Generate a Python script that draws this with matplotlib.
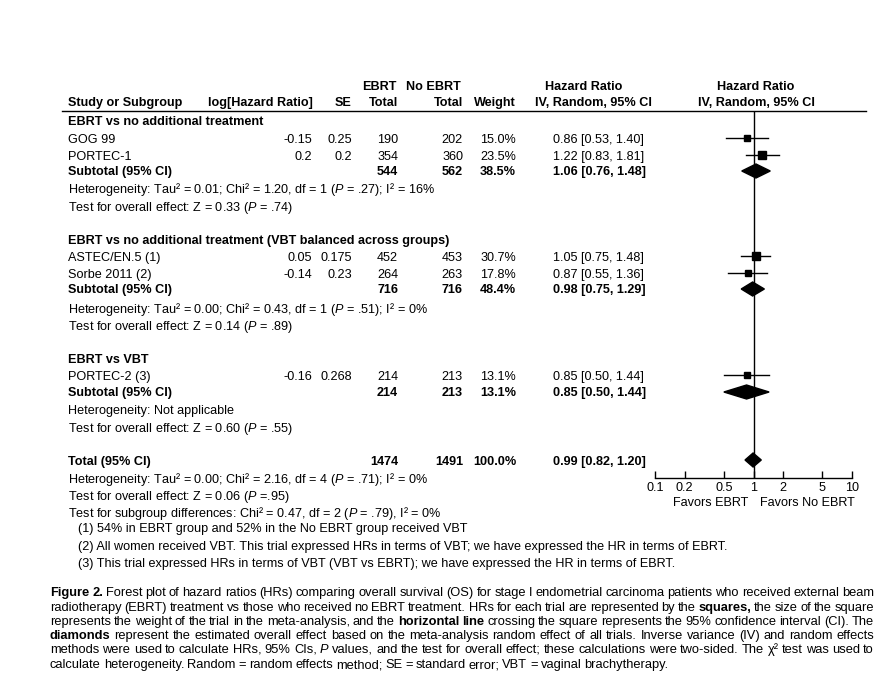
import numpy as np
import matplotlib
matplotlib.use("Agg")
import matplotlib.pyplot as plt

# ---- data ----
study_names = ["GOG 99", "PORTEC-1", "ASTEC/EN.5 (1)", "Sorbe 2011 (2)", "PORTEC-2 (3)"]
study_group = [0, 0, 1, 1, 2]
log_hr = [-0.15, 0.2, 0.05, -0.14, -0.16]
se = [0.25, 0.2, 0.175, 0.23, 0.268]
n_ebrt = [190, 354, 452, 264, 214]
n_no_ebrt = [202, 360, 453, 263, 213]
weight = [15.0, 23.5, 30.7, 17.8, 13.1]
hr = [0.86, 1.22, 1.05, 0.87, 0.85]
hr_lo = [0.53, 0.83, 0.75, 0.55, 0.50]
hr_hi = [1.40, 1.81, 1.48, 1.36, 1.44]

group_names = ["EBRT vs no additional treatment",
               "EBRT vs no additional treatment (VBT balanced across groups)",
               "EBRT vs VBT"]
sub_ebrt = [544, 716, 214]
sub_no_ebrt = [562, 716, 213]
sub_weight = [38.5, 48.4, 13.1]
sub_hr = [1.06, 0.98, 0.85]
sub_lo = [0.76, 0.75, 0.50]
sub_hi = [1.48, 1.29, 1.44]
sub_het = ["Heterogeneity: Tau² = 0.01; Chi² = 1.20, df = 1 ($P$ = .27); I² = 16%",
           "Heterogeneity: Tau² = 0.00; Chi² = 0.43, df = 1 ($P$ = .51); I² = 0%",
           "Heterogeneity: Not applicable"]
sub_test = ["Test for overall effect: Z = 0.33 ($P$ = .74)",
            "Test for overall effect: Z = 0.14 ($P$ = .89)",
            "Test for overall effect: Z = 0.60 ($P$ = .55)"]

tot_ebrt, tot_no_ebrt, tot_weight = 1474, 1491, 100.0
tot_hr, tot_lo, tot_hi = 0.99, 0.82, 1.20
tot_lines = ["Heterogeneity: Tau² = 0.00; Chi² = 2.16, df = 4 ($P$ = .71); I² = 0%",
             "Test for overall effect: Z = 0.06 ($P$ =.95)",
             "Test for subgroup differences: Chi² = 0.47, df = 2 ($P$ = .79), I² = 0%"]
footnotes = ["(1) 54% in EBRT group and 52% in the No EBRT group received VBT",
             "(2) All women received VBT. This trial expressed HRs in terms of VBT; we have expressed the HR in terms of EBRT.",
             "(3) This trial expressed HRs in terms of VBT (VBT vs EBRT); we have expressed the HR in terms of EBRT."]

xticks = [0.1, 0.2, 0.5, 1, 2, 5, 10]
xtick_labels = ["0.1", "0.2", "0.5", "1", "2", "5", "10"]

caption = [
    "**Figure** **2.** Forest plot of hazard ratios (HRs) comparing overall survival (OS) for stage I endometrial carcinoma patients who received external beam",
    "radiotherapy (EBRT) treatment vs those who received no EBRT treatment. HRs for each trial are represented by the **squares,** the size of the square",
    "represents the weight of the trial in the meta-analysis, and the **horizontal** **line** crossing the square represents the 95% confidence interval (CI). The",
    "**diamonds** represent the estimated overall effect based on the meta-analysis random effect of all trials. Inverse variance (IV) and random effects",
    "methods were used to calculate HRs, 95% CIs, _P_ values, and the test for overall effect; these calculations were two-sided. The χ² test was used to",
    "calculate heterogeneity. Random = random effects method; SE = standard error; VBT = vaginal brachytherapy.",
]

# ---- layout (pixel rows) ----
W, H = 892, 688
plt.rcParams['font.family'] = ['Liberation Sans', 'DejaVu Sans']
plt.rcParams['mathtext.fontset'] = 'custom'
plt.rcParams['mathtext.rm'] = 'Liberation Sans'
plt.rcParams['mathtext.it'] = 'Liberation Sans:italic'
plt.rcParams['mathtext.bf'] = 'Liberation Sans:bold'
FS = 9.1

fig = plt.figure(figsize=(W / 100, H / 100), dpi=100)
ax = fig.add_axes([0, 0, 1, 1])
ax.set_xlim(0, W)
ax.set_ylim(H, 0)
ax.axis('off')

line_top, axis_y = 111, 478
X_NAME, X_LOG, X_SE, X_N1, X_N2, X_W, X_CI = 68, 312, 352, 398, 463, 516, 553

def txt(x, y, s, ha='left', bold=False, **kw):
    ax.text(x, y, s, ha=ha, va='center', fontsize=FS,
            fontweight='bold' if bold else 'normal', **kw)

# header
for x, y, s, ha in [(379, 87, "EBRT", 'center'), (461, 87, "No EBRT", 'right'),
                    (584, 87, "Hazard Ratio", 'center'), (756, 87, "Hazard Ratio", 'center'),
                    (X_NAME, 103, "Study or Subgroup", 'left'), (313, 103, "log[Hazard Ratio]", 'right'),
                    (X_SE, 103, "SE", 'right'), (X_N1, 103, "Total", 'right'),
                    (X_N2, 103, "Total", 'right'), (X_W, 103, "Weight", 'right'),
                    (652, 103, "IV, Random, 95% CI", 'right'), (756, 103, "IV, Random, 95% CI", 'center')]:
    txt(x, y, s, ha=ha, bold=True)
ax.plot([62, 866], [line_top, line_top], color='black', lw=1)

# forest axes
fa = fig.add_axes([655 / W, 1 - axis_y / H, (852 - 655) / W, (axis_y - line_top) / H])
fa.set_xscale('log')
fa.set_xlim(0.1, 10)
fa.set_ylim(axis_y, line_top)
fa.patch.set_alpha(0)
for s in ['top', 'left', 'right']:
    fa.spines[s].set_visible(False)
fa.spines['bottom'].set_linewidth(1)
fa.set_yticks([])
fa.set_xticks(xticks)
fa.set_xticklabels(xtick_labels, fontsize=FS)
fa.xaxis.set_minor_locator(matplotlib.ticker.NullLocator())
fa.tick_params(axis='x', direction='in', length=5, width=1, pad=3)
fa.axvline(1, color='black', lw=1)

def diamond(y, c, lo, hi, h=7):
    fa.fill([lo, c, hi, c], [y, y - h, y, y + h], color='black', clip_on=False, zorder=3)

group_rows = [dict(title=122, studies=[140, 157], sub=172, het=190, test=208),
              dict(title=241, studies=[258, 275], sub=290, het=310, test=327),
              dict(title=360, studies=[377], sub=393, het=411, test=429)]

for g, rows in enumerate(group_rows):
    txt(X_NAME, rows['title'], group_names[g], bold=True)
    idx = [i for i in range(len(study_names)) if study_group[i] == g]
    for i, y in zip(idx, rows['studies']):
        txt(X_NAME, y, study_names[i])
        txt(X_LOG, y, str(log_hr[i]), ha='right')
        txt(X_SE, y, str(se[i]), ha='right')
        txt(X_N1, y, str(n_ebrt[i]), ha='right')
        txt(X_N2, y, str(n_no_ebrt[i]), ha='right')
        txt(X_W, y, f"{weight[i]:.1f}%", ha='right')
        txt(X_CI, y, f"{hr[i]:.2f} [{hr_lo[i]:.2f}, {hr_hi[i]:.2f}]")
        fa.plot([hr_lo[i], hr_hi[i]], [y - 2, y - 2], color='black', lw=1, clip_on=False)
        fa.plot(hr[i], y - 2, marker='s', color='black', ms=np.sqrt(weight[i]) * 1.05,
                clip_on=False, zorder=3)
    y = rows['sub']
    txt(X_NAME, y, "Subtotal (95% CI)", bold=True)
    txt(X_N1, y, str(sub_ebrt[g]), ha='right', bold=True)
    txt(X_N2, y, str(sub_no_ebrt[g]), ha='right', bold=True)
    txt(X_W, y, f"{sub_weight[g]:.1f}%", ha='right', bold=True)
    txt(X_CI, y, f"{sub_hr[g]:.2f} [{sub_lo[g]:.2f}, {sub_hi[g]:.2f}]", bold=True)
    diamond(y - 1, sub_hr[g], sub_lo[g], sub_hi[g])
    txt(X_NAME, rows['het'], sub_het[g])
    txt(X_NAME, rows['test'], sub_test[g])

# total
y = 462
txt(X_NAME, y, "Total (95% CI)", bold=True)
txt(X_N1, y, str(tot_ebrt), ha='right', bold=True)
txt(X_N2, y, str(tot_no_ebrt), ha='right', bold=True)
txt(X_W, y, f"{tot_weight:.1f}%", ha='right', bold=True)
txt(X_CI, y, f"{tot_hr:.2f} [{tot_lo:.2f}, {tot_hi:.2f}]", bold=True)
diamond(y - 2, tot_hr, tot_lo, tot_hi)
for y, s in zip([480, 497, 514], tot_lines):
    txt(X_NAME, y, s)
for y, s in zip([529, 547, 564], footnotes):
    txt(78, y, s)

txt(748, 503, "Favors EBRT", ha='right')
txt(760, 503, "Favors No EBRT", ha='left')

# caption, justified
CAP_FONT = ['Liberation Sans Narrow', 'Liberation Sans', 'DejaVu Sans']
CAP_FS = 9.3
renderer = fig.canvas.get_renderer()
inv = ax.transData.inverted()
cap_x0, cap_x1 = 50, 874
cap_y = [593, 608, 622, 636, 650, 665]
for li, (line, y) in enumerate(zip(caption, cap_y)):
    items = []
    for wd in line.split(' '):
        weight_, style_ = 'normal', 'normal'
        if wd.startswith('**'):
            wd, weight_ = wd.strip('*'), 'bold'
        elif wd.startswith('_'):
            wd, style_ = wd.strip('_'), 'italic'
        t = ax.text(0, y, wd, fontsize=CAP_FS, family=CAP_FONT, fontweight=weight_,
                    fontstyle=style_, va='center', ha='left')
        bb = t.get_window_extent(renderer)
        w = inv.transform((bb.x1, 0))[0] - inv.transform((bb.x0, 0))[0]
        items.append((t, w))
    total = sum(w for _, w in items)
    if li < len(caption) - 1:
        gap = (cap_x1 - cap_x0 - total) / (len(items) - 1)
    else:
        gap = 2.9
    x = cap_x0
    for t, w in items:
        t.set_x(x)
        x += w + gap

fig.savefig("out.png", dpi=100)
